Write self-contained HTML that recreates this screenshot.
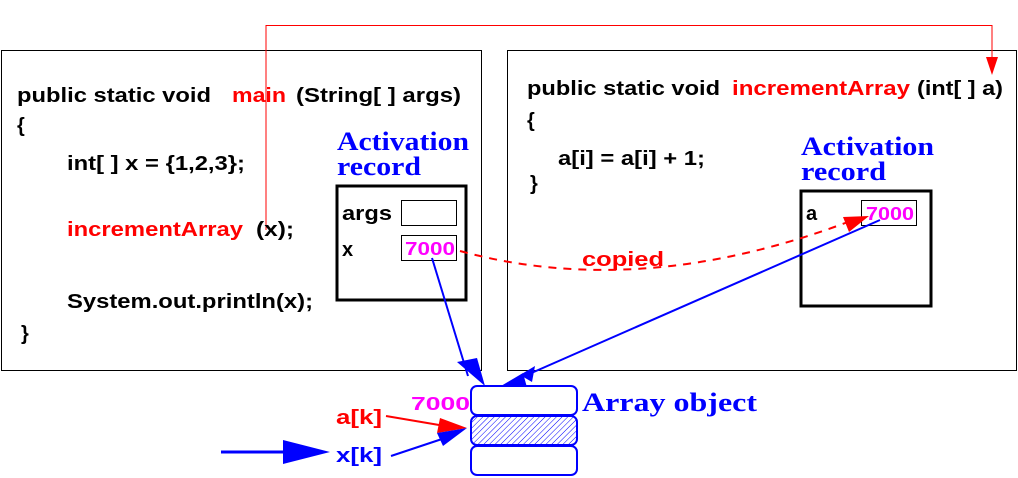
<!DOCTYPE html>
<html><head><meta charset="utf-8"><style>
html,body{margin:0;padding:0;background:#fff;width:1018px;height:478px;overflow:hidden}
svg text{font-family:"Liberation Sans",sans-serif}
.c{font-size:20px;font-weight:bold;fill:#000}
.r{fill:#ff0000}
.ar{font-family:"Liberation Serif",serif !important;font-weight:bold;fill:#0000ff;font-size:26px}
.m{fill:#ff00ff;font-weight:bold;font-size:18px}
</style></head><body>
<svg width="1018" height="478" viewBox="0 0 1018 478" xmlns="http://www.w3.org/2000/svg">
<defs>
<pattern id="h" width="4" height="4" patternUnits="userSpaceOnUse" patternTransform="rotate(45)">
<line x1="0" y1="0" x2="0" y2="4" stroke="#0000ff" stroke-width="1"/></pattern>
</defs>
<rect x="1.5" y="50.5" width="480" height="320" fill="none" stroke="#000" stroke-width="1"/>
<rect x="507.5" y="50.5" width="509" height="320" fill="none" stroke="#000" stroke-width="1"/>
<polyline points="266,230 266,25.5 992,25.5 992,60" fill="none" stroke="#ff0000" stroke-width="1"/>
<polygon points="986,57 998,57 992,75" fill="#ff0000"/>
<text class="c" x="17" y="102" textLength="194" lengthAdjust="spacingAndGlyphs">public static void</text>
<text class="c r" x="232" y="102" textLength="54" lengthAdjust="spacingAndGlyphs">main</text>
<text class="c" x="296" y="102" textLength="165" lengthAdjust="spacingAndGlyphs">(String[ ] args)</text>
<text class="c" x="17" y="132">{</text>
<text class="c" x="67" y="170" textLength="178" lengthAdjust="spacingAndGlyphs">int[ ] x = {1,2,3};</text>
<text class="c r" x="67" y="236" textLength="176" lengthAdjust="spacingAndGlyphs">incrementArray</text>
<text class="c" x="256" y="236" textLength="38" lengthAdjust="spacingAndGlyphs">(x);</text>
<text class="c" x="67" y="308" textLength="246" lengthAdjust="spacingAndGlyphs">System.out.println(x);</text>
<text class="c" x="21" y="340">}</text>
<text class="c" x="527" y="95" textLength="193" lengthAdjust="spacingAndGlyphs">public static void</text>
<text class="c r" x="732" y="95" textLength="178" lengthAdjust="spacingAndGlyphs">incrementArray</text>
<text class="c" x="917" y="95" textLength="86" lengthAdjust="spacingAndGlyphs">(int[ ] a)</text>
<text class="c" x="527" y="127">{</text>
<text class="c" x="558" y="165" textLength="147" lengthAdjust="spacingAndGlyphs">a[i] = a[i] + 1;</text>
<text class="c" x="530" y="190">}</text>
<text class="ar" x="337" y="150" textLength="132" lengthAdjust="spacingAndGlyphs">Activation</text>
<text class="ar" x="337" y="175" textLength="84" lengthAdjust="spacingAndGlyphs">record</text>
<rect x="337" y="186" width="129" height="114" fill="none" stroke="#000" stroke-width="3"/>
<text class="c" x="342" y="220" textLength="50" lengthAdjust="spacingAndGlyphs">args</text>
<rect x="401.5" y="200.5" width="55" height="25" fill="none" stroke="#000" stroke-width="1"/>
<text class="c" x="342" y="256" font-size="23">x</text>
<rect x="401.5" y="235.5" width="55" height="25" fill="none" stroke="#000" stroke-width="1"/>
<text class="m" x="405" y="255" textLength="50" lengthAdjust="spacingAndGlyphs">7000</text>
<text class="ar" x="801" y="155" textLength="133" lengthAdjust="spacingAndGlyphs">Activation</text>
<text class="ar" x="801" y="180" textLength="85" lengthAdjust="spacingAndGlyphs">record</text>
<rect x="801" y="191" width="130" height="115" fill="none" stroke="#000" stroke-width="3"/>
<text class="c" x="806" y="220" font-size="23">a</text>
<rect x="861.5" y="200.5" width="55" height="25" fill="none" stroke="#000" stroke-width="1"/>
<text class="m" x="866" y="220" textLength="48" lengthAdjust="spacingAndGlyphs">7000</text>
<path d="M460,251 Q640,300 848,222" fill="none" stroke="#ff0000" stroke-width="2" stroke-dasharray="8,7"/>
<polygon points="843,217 869,216 849,232" fill="#ff0000"/>
<text class="c r" x="582" y="266" textLength="82" lengthAdjust="spacingAndGlyphs">copied</text>
<line x1="432" y1="258" x2="468" y2="376" stroke="#0000ff" stroke-width="2"/>
<polygon points="457,362 477,358 485,386" fill="#0000ff"/>
<line x1="880" y1="220" x2="520" y2="378" stroke="#0000ff" stroke-width="2"/>
<polygon points="523,373 528,391 501,386" fill="#0000ff"/>
<polygon points="520,375 535,366 532,382" fill="#0000ff"/>
<rect x="471" y="386" width="106" height="29" rx="6" fill="#fff" stroke="#0000ff" stroke-width="2"/>
<rect x="471" y="416" width="106" height="29" rx="6" fill="url(#h)" stroke="#0000ff" stroke-width="2"/>
<rect x="471" y="446" width="106" height="29" rx="6" fill="#fff" stroke="#0000ff" stroke-width="2"/>
<text class="m" x="411" y="410" font-size="21" textLength="59" lengthAdjust="spacingAndGlyphs">7000</text>
<text class="ar" x="582" y="411" font-size="28" textLength="175" lengthAdjust="spacingAndGlyphs">Array object</text>
<text class="c r" x="336" y="424" textLength="46" lengthAdjust="spacingAndGlyphs">a[k]</text>
<text class="c" x="336" y="462" style="fill:#0000ff" textLength="46" lengthAdjust="spacingAndGlyphs">x[k]</text>
<line x1="386" y1="416" x2="445" y2="426" stroke="#ff0000" stroke-width="2"/>
<polygon points="440,418 467,428 437,433" fill="#ff0000"/>
<line x1="391" y1="456" x2="445" y2="438" stroke="#0000ff" stroke-width="2"/>
<polygon points="437,433 467,428 443,446" fill="#0000ff"/>
<line x1="221" y1="452" x2="290" y2="452" stroke="#0000ff" stroke-width="3"/>
<polygon points="283,440 330,452 283,464" fill="#0000ff"/>
</svg>
</body></html>
